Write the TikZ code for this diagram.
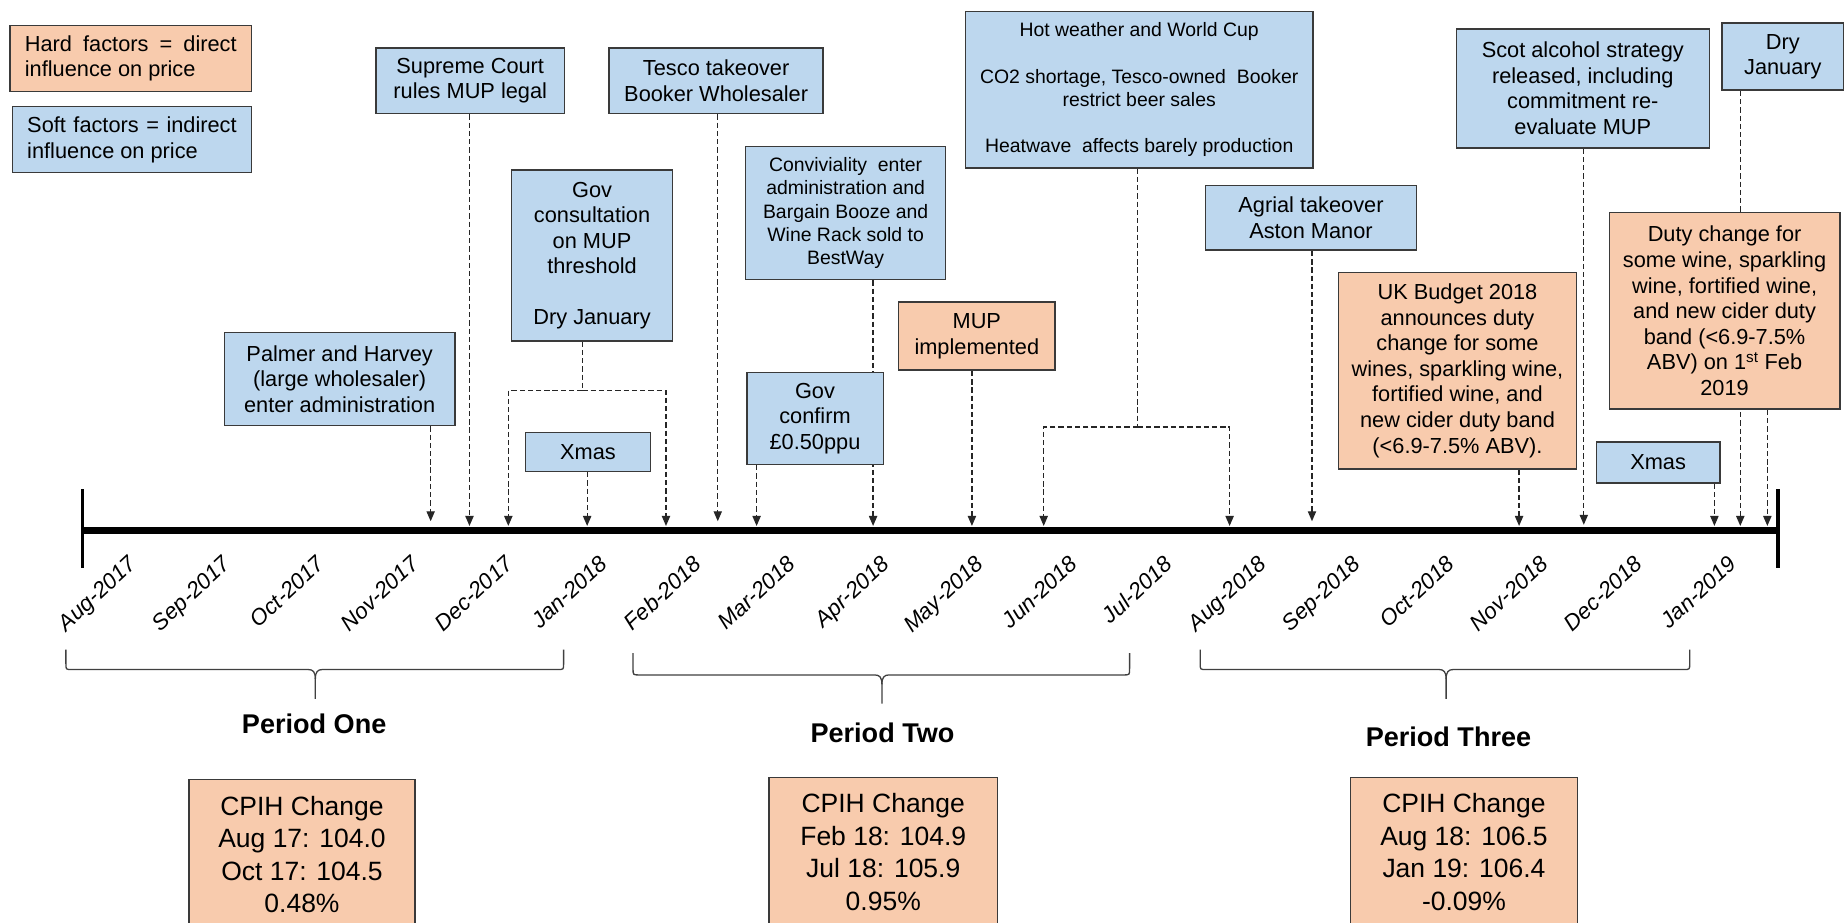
\documentclass[tikz,border=0pt]{standalone}
\usepackage{fontspec}
\setmainfont{Liberation Sans}
\usetikzlibrary{arrows.meta,backgrounds}
\definecolor{softblue}{HTML}{BDD7EE}
\definecolor{hardpeach}{HTML}{F8CBAD}
\definecolor{edgegray}{HTML}{3A3A3A}
\begin{document}
\begin{tikzpicture}[x=1pt,y=-1pt,
  evbox/.style={draw=edgegray, line width=1.3pt, inner sep=0pt, align=center,
    font=\fontsize{18.5}{21.7}\selectfont, text=black, anchor=north west},
  soft/.style={evbox, fill=softblue},
  hard/.style={evbox, fill=hardpeach},
  smalltext/.style={font=\fontsize{16.5}{19.7}\selectfont},
  cpihtext/.style={font=\fontsize{22.5}{27.7}\selectfont},
  conn/.style={draw=black!85, line width=1.1pt, dash pattern=on 4.5pt off 2.5pt,
    -{Triangle[length=8.5pt,width=7pt]}},
  dline/.style={draw=black!85, line width=1.1pt, dash pattern=on 4.5pt off 2.5pt},
  month/.style={font=\fontsize{19}{21}\selectfont\itshape, rotate=43, anchor=north east, inner sep=0pt},
  brace/.style={draw=black!75, line width=1.1pt},
  period/.style={font=\fontsize{23}{26}\selectfont\bfseries, inner sep=0pt}
]
\useasboundingbox (0,0) rectangle (1568,784);

% legend
\node[hard, minimum width=205pt, minimum height=56pt, align=left] (hard) at (8,21)
  {\makebox[180pt][s]{Hard factors = direct}\\influence on price};
\node[soft, minimum width=203pt, minimum height=56pt, align=left] (soft) at (10,90)
  {\makebox[178pt][s]{Soft factors = indirect}\\influence on price};

% event boxes
\node[soft, minimum width=160pt, minimum height=56pt] (sc) at (319,40) {Supreme Court\\rules MUP legal};
\node[soft, minimum width=182pt, minimum height=56pt] (tesco) at (517,40) {Tesco takeover\\Booker Wholesaler};
\node[soft, minimum width=137pt, minimum height=145pt] (govc) at (434,144)
  {Gov\\consultation\\on MUP\\threshold\\[21.7pt]Dry January};
\node[soft, minimum width=196pt, minimum height=79pt] (palmer) at (190,282)
  {Palmer and Harvey\\(large wholesaler)\\enter administration};
\node[soft, minimum width=106pt, minimum height=33pt] (xmasa) at (446,367) {Xmas};
\node[soft, smalltext, minimum width=170pt, minimum height=113pt] (conv) at (633,124)
  {Conviviality\ \ enter\\administration and\\Bargain Booze and\\Wine Rack sold to\\BestWay};
\node[soft, minimum width=116pt, minimum height=78pt] (govconf) at (634,316) {Gov\\confirm\\£0.50ppu};
\node[hard, minimum width=133pt, minimum height=58pt] (mup) at (763,256) {MUP\\implemented};
\node[soft, smalltext, minimum width=295pt, minimum height=133pt] (hot) at (820,9)
  {Hot weather and World Cup\\[19.7pt]CO2 shortage, Tesco-owned\ \ Booker\\restrict beer sales\\[19.7pt]Heatwave\ \ affects barely production};
\node[soft, minimum width=179pt, minimum height=55pt] (agrial) at (1024,157) {Agrial takeover\\Aston Manor};
\node[hard, minimum width=202pt, minimum height=167pt] (budget) at (1137,231)
  {UK Budget 2018\\announces duty\\change for some\\wines, sparkling wine,\\fortified wine, and\\new cider duty band\\(<6.9-7.5\% ABV).};
\node[soft, minimum width=215pt, minimum height=101pt] (scot) at (1237,24)
  {Scot alcohol strategy\\released, including\\commitment re-\\evaluate MUP};
\node[soft, minimum width=105pt, minimum height=35pt] (xmasb) at (1356,375) {Xmas};
\node[soft, minimum width=103pt, minimum height=57pt] (dry) at (1463,19) {Dry\\January};
\node[hard, minimum width=196pt, minimum height=167pt] (duty) at (1367,180)
  {Duty change for\\some wine, sparkling\\wine, fortified wine,\\and new cider duty\\band (<6.9-7.5\%\\ABV) on 1\textsuperscript{st} Feb\\2019};

% CPIH boxes
\node[hard, cpihtext, minimum width=192pt, minimum height=127pt] (cpa) at (160,662)
  {CPIH Change\\Aug 17: 104.0\\Oct 17: 104.5\\0.48\%};
\node[hard, cpihtext, minimum width=194pt, minimum height=127pt] (cpb) at (653,660)
  {CPIH Change\\Feb 18: 104.9\\Jul 18: 105.9\\0.95\%};
\node[hard, cpihtext, minimum width=193pt, minimum height=127pt] (cpc) at (1147,660)
  {CPIH Change\\Aug 18: 106.5\\Jan 19: 106.4\\-0.09\%};

% period labels
\node[period] (pone) at (267,615) {Period One};
\node[period] (ptwo) at (750,623) {Period Two};
\node[period] (pthree) at (1231,626) {Period Three};

% axis
\coordinate (axl) at (70,451);
\coordinate (axr) at (1510,451);
\draw[line width=6pt] (axl) -- (axr);
\draw[line width=3pt] (70,416) -- (70,483);
\draw[line width=3pt] (1511,416) -- (1511,483);

% month labels
\foreach \m [count=\i from 0] in {Aug-2017,Sep-2017,Oct-2017,Nov-2017,Dec-2017,Jan-2018,Feb-2018,Mar-2018,Apr-2018,May-2018,Jun-2018,Jul-2018,Aug-2018,Sep-2018,Oct-2018,Nov-2018,Dec-2018,Jan-2019}
  \node[month] (m\i) at ({108+80*\i},471) {\m};

% braces
\draw[brace] (56,552) -- (56,564) .. controls (56,569) .. (61,569) -- (262,569)
  .. controls (266,569) and (268,571) .. (268,577) -- (268,594);
\draw[brace] (479,552) -- (479,564) .. controls (479,569) .. (474,569) -- (274,569)
  .. controls (270,569) and (268,571) .. (268,577);
\draw[brace] (538,555) -- (538,568) .. controls (538,573.6) .. (543,573.6) -- (743.5,573.6)
  .. controls (747.5,573.6) and (749.5,575.6) .. (749.5,581.6) -- (749.5,598);
\draw[brace] (960,555) -- (960,568) .. controls (960,573.6) .. (955,573.6) -- (755.5,573.6)
  .. controls (751.5,573.6) and (749.5,575.6) .. (749.5,581.6);
\draw[brace] (1020,552) -- (1020,564) .. controls (1020,569) .. (1025,569) -- (1223,569)
  .. controls (1227,569) and (1229,571) .. (1229,577) -- (1229,594);
\draw[brace] (1436,552) -- (1436,564) .. controls (1436,569) .. (1431,569) -- (1235,569)
  .. controls (1231,569) and (1229,571) .. (1229,577);

% connector coordinates
\coordinate (tpalmer) at (366,443);
\coordinate (tsc) at (399,447);
\coordinate (gcj) at (495,332);
\coordinate (gcl) at (432,332);
\coordinate (gcr) at (566,332);
\coordinate (tgcl) at (432,447);
\coordinate (tgcr) at (566,447);
\coordinate (txmasa) at (499,447);
\coordinate (ttesco) at (610,443);
\coordinate (tgovconf) at (643,447);
\coordinate (tconv) at (742,447);
\coordinate (tmup) at (826,447);
\coordinate (hj) at (967,363);
\coordinate (hl) at (887,363);
\coordinate (hr) at (1045,363);
\coordinate (thl) at (887,447);
\coordinate (thr) at (1045,447);
\coordinate (tagrial) at (1115,443);
\coordinate (tbudget) at (1291,447);
\coordinate (tscot) at (1346,446);
\coordinate (txmasb) at (1457,447);
\coordinate (tdry) at (1479,447);
\coordinate (tduty) at (1502,447);

\begin{scope}[on background layer]
\fill[white] (0,0) rectangle (1568,784);
\draw[conn] (palmer.south -| tpalmer) -- (tpalmer);
\draw[conn] (sc.south -| tsc) -- (tsc);
\draw[dline] (govc.south -| gcj) -- (gcj);
\draw[conn] (gcj) -- (gcl) -- (tgcl);
\draw[conn] (gcj) -- (gcr) -- (tgcr);
\draw[conn] (xmasa.south -| txmasa) -- (txmasa);
\draw[conn] (tesco.south -| ttesco) -- (ttesco);
\draw[conn] (conv.south -| tconv) -- (tconv);
\draw[conn] (govconf.south -| tgovconf) -- (tgovconf);
\draw[conn] (mup.south -| tmup) -- (tmup);
\draw[dline] (hot.south -| hj) -- (hj);
\draw[conn] (hj) -- (hl) -- (thl);
\draw[conn] (hj) -- (hr) -- (thr);
\draw[conn] (agrial.south -| tagrial) -- (tagrial);
\draw[conn] (budget.south -| tbudget) -- (tbudget);
\draw[conn] (scot.south -| tscot) -- (tscot);
\draw[conn] (xmasb.south -| txmasb) -- (txmasb);
\draw[conn] (dry.south -| tdry) -- (tdry);
\draw[conn] (duty.south -| tduty) -- (tduty);
\end{scope}
\end{tikzpicture}
\end{document}
